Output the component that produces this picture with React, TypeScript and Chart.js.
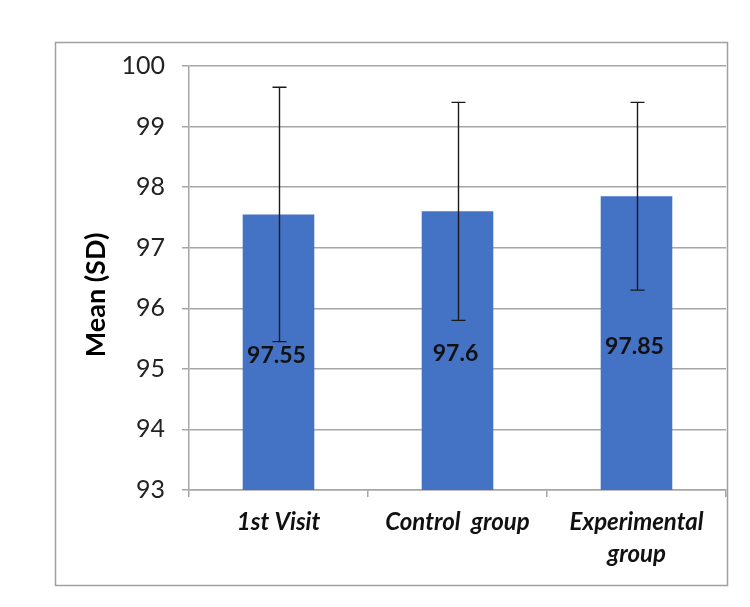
import React, { useEffect, useRef } from "react";
import { Chart, registerables } from "chart.js";

Chart.register(...registerables);

const categories: (string | string[])[] = ["1st Visit", "Control  group", ["Experimental", "group"]];
const means: number[] = [97.55, 97.6, 97.85];
const sds: number[] = [2.1, 1.8, 1.55];
const valueLabels: string[] = ["97.55", "97.6", "97.85"];
const yTitle = "Mean (SD)";
const yMin = 93;
const yMax = 100;

const FONT = "Lato, 'Open Sans', sans-serif";

const framePlugin = {
  id: "frame",
  beforeDraw(chart: any) {
    const { ctx, width, height } = chart;
    ctx.save();
    ctx.fillStyle = "#ffffff";
    ctx.fillRect(0, 0, width, height);
    ctx.strokeStyle = "#A0A0A0";
    ctx.lineWidth = 1.5;
    ctx.strokeRect(55.5, 42.5, 672, 543);
    // y axis title
    ctx.translate(96, 295);
    ctx.rotate(-Math.PI / 2);
    ctx.fillStyle = "#000000";
    ctx.font = `bold 27px ${FONT}`;
    ctx.textAlign = "center";
    ctx.textBaseline = "middle";
    ctx.fillText(yTitle, 0, 0);
    ctx.restore();
  },
};

const errorBarPlugin = {
  id: "errorBars",
  afterDatasetsDraw(chart: any) {
    const { ctx } = chart;
    const yScale = chart.scales.y;
    const meta = chart.getDatasetMeta(0);
    const basePx = yScale.getPixelForValue(yMin);
    ctx.save();
    ctx.strokeStyle = "#1a1a1a";
    ctx.lineWidth = 1.4;
    meta.data.forEach((el: any, i: number) => {
      const p = el.getProps(["x"], true);
      const x = Math.round(p.x) + 0.5;
      const top = yScale.getPixelForValue(means[i] + sds[i]);
      const bot = yScale.getPixelForValue(means[i] - sds[i]);
      const cap = 7;
      ctx.beginPath();
      ctx.moveTo(x, top);
      ctx.lineTo(x, bot);
      ctx.moveTo(x - cap, top);
      ctx.lineTo(x + cap, top);
      ctx.moveTo(x - cap, bot);
      ctx.lineTo(x + cap, bot);
      ctx.stroke();
    });
    ctx.fillStyle = "#111111";
    ctx.font = `bold 23px ${FONT}`;
    ctx.textAlign = "center";
    ctx.textBaseline = "middle";
    meta.data.forEach((el: any, i: number) => {
      const p = el.getProps(["x"], true);
      const topPx = yScale.getPixelForValue(means[i]);
      const cy = (topPx + basePx) / 2 + 3;
      ctx.fillText(valueLabels[i], p.x - 2, cy);
    });
    ctx.restore();
  },
};

export default function App() {
  const canvasRef = useRef<HTMLCanvasElement | null>(null);

  useEffect(() => {
    document.body.style.margin = "0";
    const canvas = canvasRef.current;
    if (!canvas) return;
    const chart = new Chart(canvas, {
      type: "bar",
      data: {
        labels: categories,
        datasets: [
          {
            data: means,
            backgroundColor: "#4472C4",
            borderWidth: 0,
            barPercentage: 0.4,
            categoryPercentage: 1,
          },
        ],
      },
      options: {
        responsive: false,
        animation: false,
        devicePixelRatio: 1,
        layout: { padding: { left: 76, right: 24, top: 66, bottom: 0 } },
        plugins: {
          legend: { display: false },
          tooltip: { enabled: false },
        },
        scales: {
          x: {
            afterFit(s: any) {
              s.height = 117;
            },
            grid: {
              drawOnChartArea: false,
              offset: true,
              drawTicks: true,
              tickLength: 7,
              color: "#A6A6A6",
              lineWidth: 1.5,
            },
            border: { display: true, color: "#A6A6A6", width: 1.5 },
            ticks: {
              color: "#111111",
              font: { family: FONT, size: 24, weight: "bold", style: "italic", lineHeight: 1.35 },
              padding: 9,
              maxRotation: 0,
              autoSkip: false,
            },
          },
          y: {
            min: yMin,
            max: yMax,
            afterFit(s: any) {
              s.width = 113;
            },
            grid: {
              color: "#A6A6A6",
              lineWidth: 1.5,
              drawTicks: true,
              tickLength: 7,
            },
            border: { display: true, color: "#A6A6A6", width: 1.5 },
            ticks: {
              stepSize: 1,
              color: "#222222",
              font: { family: FONT, size: 25 },
              padding: 17,
            },
          },
        },
      },
      plugins: [framePlugin, errorBarPlugin],
    });
    return () => chart.destroy();
  }, []);

  return (
    <div style={{ width: 750, height: 607 }}>
      <canvas ref={canvasRef} width={750} height={607} style={{ display: "block" }} />
    </div>
  );
}
